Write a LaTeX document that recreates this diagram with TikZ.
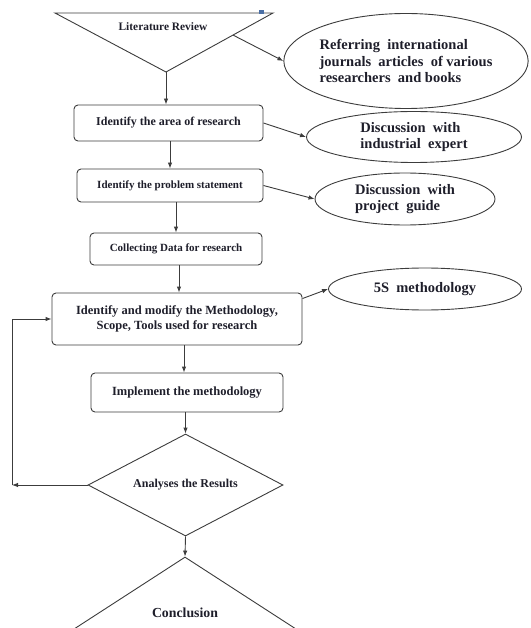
\documentclass[tikz,border=0pt]{standalone}
\usepackage{fontspec}
\setmainfont{Liberation Serif}
\usetikzlibrary{arrows.meta,shapes.geometric,calc}
\definecolor{ln}{HTML}{3C3C3C}
\definecolor{tx}{HTML}{1E1E2A}
\definecolor{bluemark}{HTML}{4A6FA5}
\begin{document}
\begin{tikzpicture}[x=1pt,y=-1pt,
 fs/.style={font=\bfseries\fontsize{#1}{#1}\selectfont},
 box/.style={draw=ln,line width=0.9pt,rounded corners=4pt,inner sep=0pt,align=center,text=tx},
 oval/.style={ellipse,draw=ln,line width=0.9pt,inner sep=0pt,align=left,text=tx,font=\bfseries\fontsize{14.5}{16.5}\selectfont},
 conn/.style={draw=ln,line width=0.9pt,-{Latex[length=6pt,width=4.5pt]}},
 plain/.style={draw=ln,line width=0.9pt}]
\useasboundingbox (0,0) rectangle (530,628);
\clip (0,0) rectangle (530,628);
% literature review triangle
\coordinate (tl) at (55,13);
\coordinate (tr) at (273,13);
\coordinate (ap) at (166,72);
\draw[plain,line join=miter] (tl) -- (tr) -- (ap) -- cycle;
\fill[bluemark] (259,10) rectangle (264,14);
\node[fs=11.4,text=tx] (lit) at (163,27) {Literature Review};
\coordinate (lr) at ($(tr)!0.374!(ap)$);
% boxes
\node[box,fs=12,minimum width=189,minimum height=36] (b1) at (168.5,123) {Identify the area of research};
\node[box,fs=11,minimum width=186,minimum height=33] (b2) at (170,185.5) {Identify the problem statement};
\node[box,fs=11,minimum width=172,minimum height=32] (b3) at (176,249) {Collecting Data for research};
\node[box,fs=12.5,minimum width=250,minimum height=52] (b4) at (177,319) {Identify and modify the Methodology,\\[3pt]Scope, Tools used for research};
\node[box,fs=12.5,minimum width=192,minimum height=39] (b5) at (187,392.5) {Implement the methodology};
% decision
\node[diamond,draw=ln,line width=0.9pt,inner sep=0pt,shape aspect=1.9,minimum width=195,minimum height=102,text=tx,fs=12] (d) at (185.5,485) {Analyses the Results};
\node[diamond,draw=ln,line width=0.9pt,inner sep=0pt,shape aspect=1.543,minimum width=247,minimum height=160,
  label={[text=tx,fs=13.8,yshift=24pt]center:Conclusion}] (c) at (185,637) {};
% ellipses
\node[oval,minimum width=208,minimum height=95] (e1) at (406,61) {Referring\ \ international\\journals\ \ articles\ \ of various\\researchers\ \ and books};
\node[oval,minimum width=215,minimum height=51] (e2) at (414,137) {Discussion\ \ with\\industrial\ \ expert};
\node[oval,minimum width=180,minimum height=52] (e3) at (405,199) {Discussion\ \ with\\project\ \ guide};
\node[oval,minimum width=193,minimum height=42] (e4) at (425,289) {5S\ \ methodology};
% connectors
\draw[conn] (ap) -- (ap |- b1.north);
\draw[conn] (lr) -- (e1.west);
\draw[conn] (b2.north |- b1.south) -- (b2.north);
\draw[conn] (b1.east) -- (e2.west);
\draw[conn] (b3.north |- b2.south) -- (b3.north);
\draw[conn] (b2.east) -- (e3.west);
\draw[conn] ($(b3.south)+(3,0)$) -- ($(b3.south |- b4.north)+(3,0)$);
\draw[conn] ($(b4.north east)+(0,6)$) -- (e4.west);
\draw[conn] ($(b5.north |- b4.south)+(-3,0)$) -- ($(b5.north)+(-3,0)$);
\draw[conn] (d.north |- b5.south) -- (d.north);
\draw[conn] (d.south) -- (c.north);
\coordinate (fb) at (12,485);
\draw[conn] (d.west) -- (fb);
\draw[conn] (fb) |- (b4.west);
\end{tikzpicture}
\end{document}
